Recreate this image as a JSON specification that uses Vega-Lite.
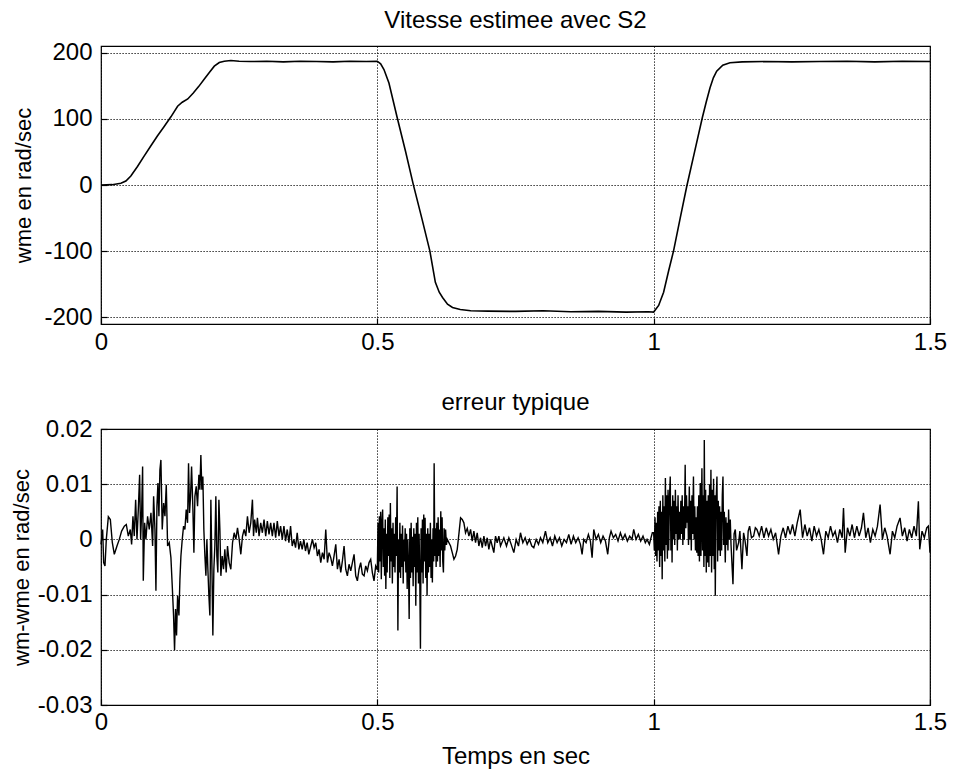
{
"$schema": "https://vega.github.io/schema/vega-lite/v6.json",
"background": "white",
"padding": {"left": 9, "top": 8, "right": 18, "bottom": 8},
"config": {
  "font": "Liberation Sans",
  "view": {"stroke": "black", "strokeWidth": 1.2},
  "axis": {"domain": false, "grid": true, "gridColor": "black", "gridDash": [1.2, 1.8], "gridOpacity": 1, "gridWidth": 1, "tickColor": "black", "tickSize": -6, "tickWidth": 1.2, "labelColor": "black", "labelFont": "Liberation Sans", "labelFontSize": 24, "titleFont": "Liberation Sans", "titleFontSize": 22, "titleFontWeight": "normal", "titleColor": "black", "labelPadding": 15, "labelFlush": false},
  "title": {"fontSize": 24, "fontWeight": "normal", "color": "black", "font": "Liberation Sans", "frame": "group"},
  "concat": {"spacing": 35}
},
"datasets": {
"s": [
{"t":0,"v":0},{"t":0.02,"v":0.5},{"t":0.036,"v":2.5},{"t":0.045,"v":6},{"t":0.054,"v":13.6},{"t":0.066,"v":28},{"t":0.078,"v":43.7},{"t":0.09,"v":59},{"t":0.102,"v":74},{"t":0.114,"v":88},{"t":0.1265,"v":103},{"t":0.1386,"v":119},{"t":0.147,"v":125},{"t":0.157,"v":130},{"t":0.167,"v":139},{"t":0.177,"v":149},{"t":0.187,"v":160},{"t":0.196,"v":170},{"t":0.205,"v":179.5},{"t":0.214,"v":185},{"t":0.223,"v":187},{"t":0.235,"v":188},{"t":0.25,"v":187},{"t":0.27,"v":186.5},{"t":0.3,"v":187},{"t":0.33,"v":186},{"t":0.36,"v":187},{"t":0.39,"v":186.5},{"t":0.42,"v":186},{"t":0.45,"v":187},{"t":0.48,"v":186.5},{"t":0.5,"v":187},{"t":0.506,"v":183},{"t":0.512,"v":174.5},{"t":0.521,"v":154},{"t":0.536,"v":101.6},{"t":0.551,"v":51},{"t":0.565,"v":1},{"t":0.581,"v":-52},{"t":0.595,"v":-99.5},{"t":0.605,"v":-147},{"t":0.612,"v":-162},{"t":0.618,"v":-170},{"t":0.627,"v":-180},{"t":0.636,"v":-185},{"t":0.65,"v":-188},{"t":0.669,"v":-190},{"t":0.7,"v":-190.5},{"t":0.75,"v":-191},{"t":0.8,"v":-190},{"t":0.85,"v":-191.5},{"t":0.9,"v":-191},{"t":0.95,"v":-192},{"t":0.99,"v":-191.5},{"t":1.0,"v":-192},{"t":1.009,"v":-182},{"t":1.018,"v":-162},{"t":1.027,"v":-130},{"t":1.036,"v":-99.5},{"t":1.048,"v":-50},{"t":1.06,"v":-1.5},{"t":1.074,"v":50},{"t":1.088,"v":101.6},{"t":1.095,"v":125},{"t":1.102,"v":147},{"t":1.108,"v":162},{"t":1.114,"v":172},{"t":1.125,"v":181},{"t":1.138,"v":184.6},{"t":1.16,"v":186},{"t":1.2,"v":186.5},{"t":1.25,"v":186},{"t":1.3,"v":186.5},{"t":1.35,"v":187},{"t":1.4,"v":186},{"t":1.45,"v":187},{"t":1.5,"v":186.5}
],
"e": [
{"t":0,"v":-0.0009},{"t":0.003,"v":0.0018},{"t":0.0048,"v":-0.0042},{"t":0.0072,"v":-0.0048},{"t":0.0096,"v":0},{"t":0.0133,"v":0.0041},{"t":0.0169,"v":0.0036},{"t":0.0205,"v":-0.0006},{"t":0.0241,"v":-0.0027},{"t":0.0289,"v":-0.0012},{"t":0.0331,"v":0},{"t":0.0373,"v":0.0015},{"t":0.0422,"v":0.0024},{"t":0.0458,"v":0.0027},{"t":0.0494,"v":0.0006},{"t":0.053,"v":0.0018},{"t":0.0554,"v":-0.0009},{"t":0.0578,"v":0.0042},{"t":0.0602,"v":0.0006},{"t":0.0627,"v":0.0072},{"t":0.0651,"v":0},{"t":0.0675,"v":0.0054},{"t":0.0699,"v":0.0117},{"t":0.0717,"v":0},{"t":0.0735,"v":0.0048},{"t":0.0753,"v":0.0132},{"t":0.0765,"v":-0.0075},{"t":0.0789,"v":0.003},{"t":0.0813,"v":0},{"t":0.0843,"v":0.0042},{"t":0.0873,"v":0.0018},{"t":0.0904,"v":0.0048},{"t":0.0934,"v":-0.0012},{"t":0.0952,"v":0.0078},{"t":0.0976,"v":0.0018},{"t":0.0994,"v":-0.0093},{"t":0.1012,"v":0.006},{"t":0.103,"v":0.0102},{"t":0.1048,"v":0.0042},{"t":0.1066,"v":0.0126},{"t":0.1084,"v":0.0144},{"t":0.1108,"v":0.0018},{"t":0.1133,"v":0.0066},{"t":0.1157,"v":0.0042},{"t":0.1181,"v":0.0099},{"t":0.1205,"v":-0.0012},{"t":0.1235,"v":-0.0006},{"t":0.1265,"v":-0.0033},{"t":0.1289,"v":-0.0084},{"t":0.1313,"v":-0.0138},{"t":0.1331,"v":-0.0201},{"t":0.1349,"v":-0.0126},{"t":0.1367,"v":-0.0174},{"t":0.1386,"v":-0.0102},{"t":0.141,"v":-0.0138},{"t":0.1428,"v":-0.0072},{"t":0.1446,"v":-0.003},{"t":0.147,"v":0},{"t":0.1494,"v":0.0024},{"t":0.1518,"v":0.0018},{"t":0.1542,"v":0.0054},{"t":0.1566,"v":0.003},{"t":0.1584,"v":0.0138},{"t":0.1602,"v":0.0048},{"t":0.162,"v":0.0078},{"t":0.1639,"v":0.0132},{"t":0.1663,"v":0.0054},{"t":0.1681,"v":-0.0024},{"t":0.1699,"v":0.0078},{"t":0.1723,"v":0.0096},{"t":0.1747,"v":0.006},{"t":0.1771,"v":0.0117},{"t":0.1789,"v":0.009},{"t":0.1807,"v":0.0153},{"t":0.1825,"v":0.009},{"t":0.1843,"v":0.0114},{"t":0.1861,"v":0.0018},{"t":0.188,"v":-0.003},{"t":0.1898,"v":-0.0066},{"t":0.1916,"v":0},{"t":0.1934,"v":-0.0054},{"t":0.1952,"v":-0.0102},{"t":0.197,"v":-0.0138},{"t":0.1988,"v":0.0072},{"t":0.2006,"v":-0.0042},{"t":0.2024,"v":-0.0174},{"t":0.2042,"v":-0.0054},{"t":0.206,"v":-0.0012},{"t":0.2078,"v":0.0078},{"t":0.2096,"v":-0.003},{"t":0.2114,"v":-0.006},{"t":0.2133,"v":0.0072},{"t":0.2151,"v":0.0018},{"t":0.2169,"v":-0.0066},{"t":0.2193,"v":-0.003},{"t":0.2217,"v":-0.0054},{"t":0.2241,"v":-0.0018},{"t":0.2265,"v":-0.006},{"t":0.2289,"v":-0.0012},{"t":0.2319,"v":-0.0042},{"t":0.2349,"v":-0.0054},{"t":0.238,"v":-0.0006},{"t":0.241,"v":0.0012},{"t":0.244,"v":0},{"t":0.247,"v":0.0021},{"t":0.25,"v":0},{"t":0.253,"v":-0.0027},{"t":0.256,"v":0.0006},{"t":0.259,"v":0.0018},{"t":0.262,"v":0.0006},{"t":0.265,"v":0.0042},{"t":0.268,"v":0.0012},{"t":0.271,"v":0.003},{"t":0.274,"v":0.0072},{"t":0.276,"v":0.0006},{"t":0.278,"v":0.0036},{"t":0.281,"v":0.0012},{"t":0.283,"v":0.0039},{"t":0.286,"v":0.0006},{"t":0.289,"v":0.003},{"t":0.292,"v":0.0012},{"t":0.295,"v":0.0036},{"t":0.298,"v":0.0006},{"t":0.301,"v":0.0033},{"t":0.304,"v":0.0009},{"t":0.307,"v":0.003},{"t":0.31,"v":0.0006},{"t":0.313,"v":0.003},{"t":0.316,"v":0.0003},{"t":0.319,"v":0.0033},{"t":0.322,"v":0.0006},{"t":0.325,"v":0.0024},{"t":0.328,"v":0},{"t":0.331,"v":0.0024},{"t":0.334,"v":-0.0003},{"t":0.337,"v":0.0018},{"t":0.34,"v":-0.0006},{"t":0.343,"v":0.0024},{"t":0.346,"v":-0.0012},{"t":0.349,"v":0},{"t":0.352,"v":-0.0015},{"t":0.355,"v":0.0012},{"t":0.358,"v":-0.0018},{"t":0.361,"v":-0.0003},{"t":0.364,"v":-0.0018},{"t":0.367,"v":0},{"t":0.37,"v":-0.0021},{"t":0.373,"v":-0.0006},{"t":0.376,"v":-0.0027},
{"t":0.3796,"v":-0.0012},{"t":0.3826,"v":0},{"t":0.3856,"v":-0.0015},{"t":0.3886,"v":-0.0006},{"t":0.3916,"v":-0.003},{"t":0.3946,"v":-0.0018},{"t":0.3976,"v":-0.0042},{"t":0.4007,"v":-0.0024},{"t":0.4037,"v":-0.0036},{"t":0.4067,"v":0.0018},{"t":0.4097,"v":-0.0042},{"t":0.4127,"v":-0.0024},{"t":0.4157,"v":-0.0033},{"t":0.4187,"v":-0.0048},{"t":0.4217,"v":-0.003},{"t":0.4248,"v":-0.0009},{"t":0.4278,"v":-0.0054},{"t":0.4308,"v":-0.0036},{"t":0.4338,"v":-0.006},{"t":0.4368,"v":-0.0039},{"t":0.4398,"v":-0.0012},{"t":0.4428,"v":-0.0054},{"t":0.4458,"v":-0.0066},{"t":0.4488,"v":-0.0045},{"t":0.4519,"v":-0.0057},{"t":0.4549,"v":-0.0042},{"t":0.4579,"v":-0.0027},{"t":0.4609,"v":-0.0066},{"t":0.4639,"v":-0.0075},{"t":0.4669,"v":-0.0054},{"t":0.4699,"v":-0.0042},{"t":0.4729,"v":-0.0063},{"t":0.476,"v":-0.0066},{"t":0.479,"v":-0.0048},{"t":0.482,"v":-0.0057},{"t":0.485,"v":-0.0042},{"t":0.488,"v":-0.0036},{"t":0.491,"v":-0.006},{"t":0.494,"v":-0.0075},{"t":0.497,"v":-0.0048},{"t":0.4995,"v":-0.0054},
{"t":0.5,"v":-0.0054},{"t":0.5012,"v":0.003},{"t":0.5024,"v":-0.006},{"t":0.5036,"v":0.0042},{"t":0.5048,"v":-0.004},{"t":0.506,"v":0.005},{"t":0.5072,"v":-0.0072},{"t":0.5084,"v":0.003},{"t":0.5096,"v":0.0054},{"t":0.5108,"v":-0.005},{"t":0.512,"v":0.002},{"t":0.5132,"v":-0.0066},{"t":0.5144,"v":0.0036},{"t":0.5154,"v":-0.009},{"t":0.5166,"v":0.001},{"t":0.5178,"v":-0.006},{"t":0.519,"v":0.004},{"t":0.5202,"v":-0.003},{"t":0.5214,"v":0.0045},{"t":0.5226,"v":-0.007},{"t":0.5236,"v":0.0066},{"t":0.5248,"v":-0.004},{"t":0.526,"v":0.002},{"t":0.5272,"v":-0.008},{"t":0.5284,"v":0.003},{"t":0.5296,"v":-0.005},{"t":0.5308,"v":0.001},{"t":0.532,"v":-0.006},{"t":0.5332,"v":0.004},{"t":0.5344,"v":-0.003},{"t":0.5358,"v":0.0096},{"t":0.5372,"v":-0.0165},{"t":0.5384,"v":0},{"t":0.5396,"v":-0.006},{"t":0.5408,"v":0.003},{"t":0.542,"v":-0.007},{"t":0.5432,"v":0.001},{"t":0.5444,"v":-0.005},{"t":0.5456,"v":0.0025},{"t":0.5468,"v":-0.008},{"t":0.548,"v":0},{"t":0.5492,"v":-0.004},{"t":0.5504,"v":0.002},{"t":0.5516,"v":-0.006},{"t":0.5528,"v":0.001},{"t":0.554,"v":-0.009},{"t":0.5552,"v":0},{"t":0.5564,"v":-0.005},{"t":0.5576,"v":-0.0144},{"t":0.5588,"v":0.002},{"t":0.56,"v":-0.007},{"t":0.5612,"v":0.003},{"t":0.5624,"v":-0.006},{"t":0.5636,"v":0.0005},{"t":0.5648,"v":-0.0085},{"t":0.566,"v":0.002},{"t":0.5672,"v":-0.005},{"t":0.5684,"v":0.001},{"t":0.5696,"v":-0.012},{"t":0.5708,"v":0.003},{"t":0.572,"v":-0.006},{"t":0.5732,"v":0.004},{"t":0.5744,"v":-0.008},{"t":0.5756,"v":0.001},{"t":0.5768,"v":-0.007},{"t":0.578,"v":-0.0198},{"t":0.5792,"v":0.002},{"t":0.5804,"v":-0.006},{"t":0.5816,"v":0.0036},{"t":0.5828,"v":-0.008},{"t":0.584,"v":0.0045},{"t":0.5852,"v":-0.004},{"t":0.5864,"v":0.0039},{"t":0.5876,"v":-0.007},{"t":0.5888,"v":0.001},{"t":0.59,"v":-0.0102},{"t":0.5912,"v":0.002},{"t":0.5924,"v":-0.006},{"t":0.5936,"v":0.001},{"t":0.5948,"v":-0.005},{"t":0.596,"v":0.003},{"t":0.5972,"v":-0.007},{"t":0.5984,"v":0},{"t":0.5996,"v":-0.0078},{"t":0.6008,"v":0.002},{"t":0.602,"v":-0.004},{"t":0.6028,"v":0.0138},{"t":0.604,"v":-0.003},{"t":0.6052,"v":0.002},{"t":0.6064,"v":-0.005},{"t":0.6076,"v":0.003},{"t":0.6088,"v":-0.004},{"t":0.61,"v":0.004},{"t":0.6112,"v":-0.003},{"t":0.6124,"v":0.0018},{"t":0.6136,"v":-0.005},{"t":0.6148,"v":0.0051},{"t":0.616,"v":-0.002},{"t":0.6172,"v":0.004},{"t":0.6184,"v":-0.004},{"t":0.6196,"v":-0.006},{"t":0.6208,"v":0.002},{"t":0.622,"v":-0.002},{"t":0.6235,"v":0.0018},{"t":0.625,"v":-0.001},{"t":0.6265,"v":0},
{"t":0.6325,"v":-0.0012},{"t":0.6356,"v":-0.0024},{"t":0.6386,"v":-0.0036},{"t":0.6416,"v":-0.003},{"t":0.6446,"v":-0.0018},{"t":0.6476,"v":0.001},{"t":0.6506,"v":0.0039},{"t":0.6536,"v":0.0036},{"t":0.6566,"v":0.003},{"t":0.6596,"v":0.0012},{"t":0.6627,"v":0.002},{"t":0.6657,"v":0.0006},{"t":0.6687,"v":0.0018},{"t":0.6717,"v":-0.0003},{"t":0.6747,"v":0.0015},{"t":0.6777,"v":-0.0006},{"t":0.6807,"v":0.0012},{"t":0.6837,"v":-0.0012},{"t":0.6868,"v":0.0003},{"t":0.6898,"v":-0.0015},{"t":0.6928,"v":0.0006},{"t":0.6958,"v":-0.0012},{"t":0.6988,"v":0.0003},{"t":0.7018,"v":-0.0018},{"t":0.7048,"v":0},{"t":0.7078,"v":-0.0012},{"t":0.7108,"v":-0.0024},{"t":0.7139,"v":0.0006},{"t":0.7169,"v":-0.0006},{"t":0.7199,"v":0.0006},{"t":0.7229,"v":-0.0012},
{"t":0.7289,"v":0.0003},{"t":0.7337,"v":-0.0012},{"t":0.738,"v":0.0003},{"t":0.7422,"v":-0.0009},{"t":0.747,"v":-0.0024},{"t":0.7512,"v":0},{"t":0.7554,"v":-0.0012},{"t":0.759,"v":0.0012},{"t":0.7633,"v":-0.0006},{"t":0.7675,"v":0.0003},{"t":0.7711,"v":-0.0009},{"t":0.7753,"v":0},{"t":0.7795,"v":-0.0012},{"t":0.7831,"v":-0.0015},{"t":0.7874,"v":0},{"t":0.7916,"v":-0.0009},{"t":0.7952,"v":0.0003},{"t":0.7994,"v":-0.0006},{"t":0.8042,"v":0.0015},{"t":0.8084,"v":-0.0006},{"t":0.8127,"v":0.0003},{"t":0.8169,"v":-0.0012},{"t":0.8211,"v":0.0006},{"t":0.8253,"v":-0.0006},{"t":0.8295,"v":0.0003},{"t":0.8337,"v":-0.0012},{"t":0.838,"v":0},{"t":0.8422,"v":-0.0006},{"t":0.8464,"v":0.0009},{"t":0.8506,"v":-0.0009},{"t":0.8548,"v":0.0006},{"t":0.859,"v":-0.0006},{"t":0.8633,"v":0.0003},{"t":0.8675,"v":-0.0009},{"t":0.8705,"v":-0.0027},{"t":0.8735,"v":0},{"t":0.8777,"v":-0.0006},{"t":0.8819,"v":0.0009},{"t":0.8855,"v":-0.0003},{"t":0.8886,"v":-0.0033},{"t":0.8916,"v":0.0018},{"t":0.8958,"v":0},{"t":0.9,"v":0.0009},{"t":0.9042,"v":-0.0006},{"t":0.9084,"v":0.0006},{"t":0.9127,"v":-0.0003},{"t":0.9169,"v":-0.0027},{"t":0.9199,"v":0.0003},{"t":0.9229,"v":0.0015},{"t":0.9271,"v":0.0003},{"t":0.9313,"v":0.0009},{"t":0.9355,"v":-0.0003},{"t":0.9398,"v":0.0012},{"t":0.944,"v":0},{"t":0.9482,"v":0.0009},{"t":0.9524,"v":-0.0003},{"t":0.9566,"v":0.0006},{"t":0.9608,"v":0},{"t":0.9639,"v":0.0018},{"t":0.9681,"v":0},{"t":0.9723,"v":0.0009},{"t":0.9765,"v":-0.0003},{"t":0.9807,"v":0.0006},{"t":0.9849,"v":-0.0006},{"t":0.988,"v":0},{"t":0.9922,"v":-0.0009},{"t":0.9952,"v":0.0003},{"t":0.9976,"v":0.0012},
{"t":1.0,"v":0.0012},{"t":1.0012,"v":-0.002},{"t":1.0024,"v":0.004},{"t":1.0036,"v":-0.003},{"t":1.0048,"v":0.003},{"t":1.006,"v":-0.004},{"t":1.0072,"v":0.005},{"t":1.0084,"v":-0.002},{"t":1.0096,"v":0.006},{"t":1.0108,"v":-0.005},{"t":1.012,"v":0.007},{"t":1.0132,"v":-0.003},{"t":1.0144,"v":0.005},{"t":1.0154,"v":-0.0072},{"t":1.0166,"v":0.008},{"t":1.0178,"v":-0.002},{"t":1.019,"v":0.006},{"t":1.0202,"v":-0.004},{"t":1.0212,"v":0.0111},{"t":1.0224,"v":-0.001},{"t":1.0236,"v":0.008},{"t":1.0248,"v":-0.0035},{"t":1.026,"v":0.009},{"t":1.0272,"v":-0.002},{"t":1.0284,"v":0.007},{"t":1.03,"v":0.0114},{"t":1.0312,"v":-0.002},{"t":1.0324,"v":0.006},{"t":1.0333,"v":-0.0042},{"t":1.0345,"v":0.008},{"t":1.0357,"v":0},{"t":1.0369,"v":0.007},{"t":1.0381,"v":-0.001},{"t":1.0393,"v":0.009},{"t":1.0405,"v":0.001},{"t":1.0417,"v":0.006},{"t":1.0429,"v":-0.002},{"t":1.0441,"v":0.008},{"t":1.0453,"v":0},{"t":1.0465,"v":0.005},{"t":1.048,"v":0},{"t":1.0492,"v":0.007},{"t":1.0504,"v":0.001},{"t":1.0516,"v":0.008},{"t":1.0528,"v":-0.001},{"t":1.054,"v":0.006},{"t":1.0555,"v":0},{"t":1.057,"v":0.0135},{"t":1.0582,"v":0.002},{"t":1.0594,"v":0.008},{"t":1.0606,"v":0.003},{"t":1.0618,"v":0.006},{"t":1.063,"v":-0.001},{"t":1.0645,"v":0.0096},{"t":1.0657,"v":0},{"t":1.0669,"v":0.007},{"t":1.0681,"v":-0.002},{"t":1.0693,"v":0.008},{"t":1.0705,"v":0.001},{"t":1.072,"v":0.0114},{"t":1.0732,"v":0},{"t":1.0744,"v":0.006},{"t":1.0756,"v":-0.002},{"t":1.0768,"v":0.004},{"t":1.078,"v":-0.0024},{"t":1.0792,"v":0.006},{"t":1.0804,"v":-0.003},{"t":1.0816,"v":0.008},{"t":1.0828,"v":-0.004},{"t":1.0843,"v":0.0102},{"t":1.0855,"v":-0.003},{"t":1.0873,"v":0.0129},{"t":1.0885,"v":-0.002},{"t":1.0897,"v":0.008},{"t":1.0909,"v":-0.005},{"t":1.0916,"v":0.018},{"t":1.0928,"v":-0.003},{"t":1.094,"v":0.009},{"t":1.0952,"v":-0.006},{"t":1.0964,"v":0.007},{"t":1.0976,"v":-0.0042},{"t":1.0988,"v":0.008},{"t":1.1,"v":-0.005},{"t":1.1012,"v":0.01},{"t":1.1024,"v":-0.003},{"t":1.1036,"v":0.0126},{"t":1.1048,"v":-0.006},{"t":1.106,"v":0.009},{"t":1.1072,"v":-0.003},{"t":1.1084,"v":0.011},{"t":1.1096,"v":-0.0054},{"t":1.1108,"v":0.008},{"t":1.1115,"v":-0.0102},{"t":1.1127,"v":0.006},{"t":1.1145,"v":0.0114},{"t":1.1157,"v":-0.004},{"t":1.1169,"v":0.007},{"t":1.1181,"v":-0.002},{"t":1.1193,"v":0.006},{"t":1.1206,"v":-0.003},{"t":1.1218,"v":0.005},{"t":1.123,"v":-0.002},{"t":1.1242,"v":0.008},{"t":1.1254,"v":0.0114},{"t":1.1266,"v":-0.001},{"t":1.1278,"v":0.005},{"t":1.1296,"v":-0.0042},{"t":1.1308,"v":0.004},{"t":1.132,"v":-0.001},{"t":1.1332,"v":0.003},{"t":1.1344,"v":-0.002},{"t":1.1356,"v":0.0054},{"t":1.1368,"v":0},{"t":1.1386,"v":0.0036},{"t":1.14,"v":-0.001},{"t":1.1435,"v":-0.0081},{"t":1.1455,"v":0.001},{"t":1.1477,"v":0.0018},{"t":1.15,"v":-0.002},{"t":1.1537,"v":-0.0006},{"t":1.156,"v":0.0015},{"t":1.1597,"v":-0.0054},{"t":1.1627,"v":0.0012},{"t":1.165,"v":0},{"t":1.1688,"v":-0.003},{"t":1.171,"v":0.0015},{"t":1.1736,"v":0.0024},{"t":1.177,"v":0.0003},{"t":1.1808,"v":0.0006},{"t":1.184,"v":0.0021},
{"t":1.1868,"v":0.0018},{"t":1.191,"v":0.0006},{"t":1.1953,"v":0.0024},{"t":1.1995,"v":0.0003},{"t":1.2037,"v":0.0021},{"t":1.2079,"v":0.0006},{"t":1.2121,"v":0.0018},{"t":1.2163,"v":0},{"t":1.2206,"v":0.0012},{"t":1.226,"v":-0.0027},{"t":1.2302,"v":0.0006},{"t":1.2344,"v":0.0021},{"t":1.2386,"v":0.0003},{"t":1.2429,"v":0.0024},{"t":1.2471,"v":0.0009},{"t":1.2513,"v":0.0027},{"t":1.2555,"v":0.0006},{"t":1.2597,"v":0.003},{"t":1.2651,"v":0.0054},{"t":1.2694,"v":0.0003},{"t":1.2736,"v":0.0027},{"t":1.2778,"v":0.0006},{"t":1.282,"v":0.0021},{"t":1.2862,"v":-0.0003},{"t":1.2904,"v":0.0024},{"t":1.2947,"v":0.0006},{"t":1.2989,"v":0.0018},{"t":1.3031,"v":0},{"t":1.3073,"v":-0.0027},{"t":1.3115,"v":0.0015},{"t":1.3158,"v":0.0003},{"t":1.32,"v":0.0024},{"t":1.3242,"v":0.0006},{"t":1.3284,"v":0.0015},{"t":1.3326,"v":-0.0006},{"t":1.3368,"v":0.0018},{"t":1.3411,"v":0.0003},{"t":1.3435,"v":0.0057},{"t":1.3465,"v":-0.0024},{"t":1.3507,"v":0.0021},{"t":1.3549,"v":0.0006},{"t":1.3591,"v":0.0027},{"t":1.3633,"v":0.0003},{"t":1.3676,"v":0.0024},{"t":1.3718,"v":0.0006},{"t":1.376,"v":0.0021},{"t":1.3796,"v":0.0048},{"t":1.3838,"v":0.0003},{"t":1.388,"v":0.0021},{"t":1.3922,"v":-0.0006},{"t":1.3965,"v":0.0018},{"t":1.4007,"v":0.0006},{"t":1.4049,"v":0.0024},{"t":1.4097,"v":0.0063},{"t":1.4139,"v":0},{"t":1.4181,"v":0.0021},{"t":1.4223,"v":0.0006},{"t":1.4278,"v":-0.0027},{"t":1.432,"v":0.0015},{"t":1.4362,"v":0.0003},{"t":1.4404,"v":0.0024},{"t":1.4458,"v":0.0039},{"t":1.45,"v":0.0006},{"t":1.4543,"v":0.0021},{"t":1.4585,"v":-0.0003},{"t":1.4627,"v":0.0018},{"t":1.4669,"v":0.0003},{"t":1.4711,"v":0.0024},{"t":1.4753,"v":0.0006},{"t":1.479,"v":0.0069},{"t":1.4814,"v":-0.0018},{"t":1.4856,"v":0.0015},{"t":1.4898,"v":0.0003},{"t":1.494,"v":0.0021},{"t":1.497,"v":0.0024},{"t":1.5,"v":-0.0024}
]
},
"vconcat": [
  {
    "title": {"text": "Vitesse estimee avec S2", "offset": 8},
    "width": 829, "height": 278,
    "data": {"name": "s"},
    "mark": {"type": "line", "color": "black", "strokeWidth": 1.6},
    "encoding": {
      "x": {"field": "t", "type": "quantitative", "scale": {"domain": [0, 1.5], "nice": false, "zero": false},
            "axis": {"values": [0, 0.5, 1, 1.5], "title": null, "labelExpr": "'' + datum.value", "labelPadding": 12}},
      "y": {"field": "v", "type": "quantitative", "scale": {"domain": [-210, 210], "nice": false, "zero": false},
            "axis": {"values": [-200, -100, 0, 100, 200], "title": "wme en rad/sec", "labelExpr": "'' + datum.value", "titlePadding": 8}}
    }
  },
  {
    "title": {"text": "erreur typique", "offset": 2},
    "width": 829, "height": 276,
    "data": {"name": "e"},
    "mark": {"type": "line", "color": "black", "strokeWidth": 1.4},
    "encoding": {
      "x": {"field": "t", "type": "quantitative", "scale": {"domain": [0, 1.5], "nice": false, "zero": false},
            "axis": {"values": [0, 0.5, 1, 1.5], "title": "Temps en sec", "titleFontSize": 24, "titlePadding": 10, "labelExpr": "'' + datum.value", "labelPadding": 11}},
      "y": {"field": "v", "type": "quantitative", "scale": {"domain": [-0.03, 0.02], "nice": false, "zero": false},
            "axis": {"values": [-0.03, -0.02, -0.01, 0, 0.01, 0.02], "title": "wm-wme en rad/sec", "labelExpr": "'' + datum.value", "titlePadding": 4}}
    }
  }
]
}
